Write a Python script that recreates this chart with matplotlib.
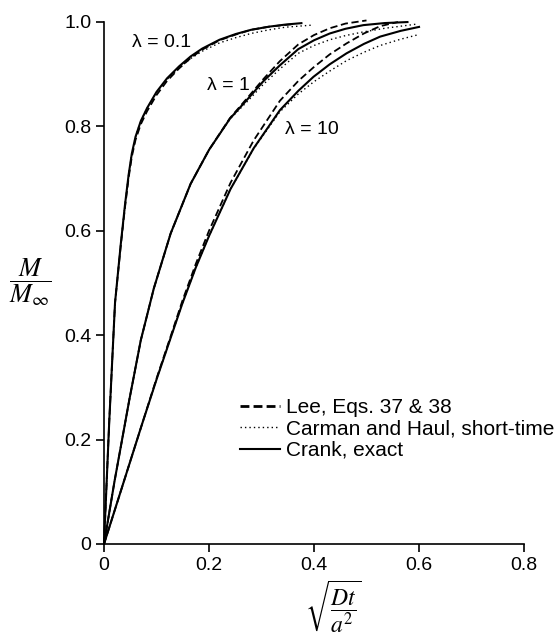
import matplotlib
matplotlib.use("Agg")
import matplotlib.pyplot as plt
from matplotlib.lines import Line2D

plt.rcParams['font.family'] = ['Liberation Sans', 'DejaVu Sans']
plt.rcParams['mathtext.fontset'] = 'stix'

# ==== Data (x = sqrt(Dt/a^2), y = M/M_inf) ====
# lambda = 0.1
crank_01_x = [0, 0.010, 0.021, 0.032, 0.040, 0.047, 0.053, 0.060, 0.070, 0.082, 0.100,
              0.120, 0.143, 0.165, 0.187, 0.220, 0.251, 0.280, 0.314, 0.345, 0.378]
crank_01_y = [0, 0.235, 0.462, 0.575, 0.650, 0.708, 0.748, 0.780, 0.810, 0.835, 0.866,
              0.892, 0.915, 0.934, 0.949, 0.966, 0.977, 0.985, 0.991, 0.995, 0.998]
lee_01_x = [0, 0.010, 0.021, 0.032, 0.040, 0.047, 0.053, 0.060, 0.070, 0.082, 0.100,
            0.120, 0.143, 0.165, 0.187, 0.220, 0.251, 0.280, 0.314, 0.360]
lee_01_y = [0, 0.235, 0.462, 0.572, 0.645, 0.702, 0.742, 0.774, 0.804, 0.829, 0.860,
            0.887, 0.911, 0.931, 0.947, 0.965, 0.976, 0.985, 0.991, 0.996]
carman_01_x = [0, 0.010, 0.021, 0.032, 0.040, 0.047, 0.053, 0.060, 0.070, 0.082, 0.100,
               0.120, 0.143, 0.165, 0.187, 0.220, 0.251, 0.280, 0.314, 0.345, 0.396]
carman_01_y = [0, 0.235, 0.462, 0.575, 0.650, 0.708, 0.748, 0.780, 0.810, 0.835, 0.865,
               0.890, 0.912, 0.930, 0.944, 0.960, 0.970, 0.978, 0.985, 0.990, 0.994]

# lambda = 1
crank_1_x = [0, 0.020, 0.048, 0.070, 0.095, 0.127, 0.165, 0.200, 0.240, 0.276, 0.303,
             0.335, 0.370, 0.400, 0.430, 0.460, 0.494, 0.535, 0.580]
crank_1_y = [0, 0.120, 0.275, 0.390, 0.490, 0.595, 0.690, 0.755, 0.815, 0.855, 0.886,
             0.917, 0.948, 0.965, 0.978, 0.987, 0.994, 0.998, 1.000]
lee_1_x = [0, 0.020, 0.048, 0.070, 0.095, 0.127, 0.165, 0.200, 0.240, 0.276, 0.303,
           0.335, 0.370, 0.400, 0.430, 0.460, 0.500]
lee_1_y = [0, 0.120, 0.275, 0.390, 0.490, 0.595, 0.690, 0.755, 0.816, 0.858, 0.890,
           0.925, 0.957, 0.975, 0.988, 0.997, 1.003]
carman_1_x = [0, 0.020, 0.048, 0.070, 0.095, 0.127, 0.165, 0.200, 0.240, 0.276, 0.303,
              0.335, 0.370, 0.400, 0.430, 0.460, 0.494, 0.535, 0.596]
carman_1_y = [0, 0.120, 0.275, 0.390, 0.490, 0.595, 0.690, 0.755, 0.814, 0.851, 0.880,
              0.910, 0.940, 0.955, 0.966, 0.974, 0.981, 0.988, 0.996]

# lambda = 10
crank_10_x = [0, 0.030, 0.071, 0.100, 0.127, 0.149, 0.175, 0.200, 0.241, 0.285, 0.335,
              0.370, 0.399, 0.430, 0.462, 0.495, 0.526, 0.565, 0.602]
crank_10_y = [0, 0.095, 0.225, 0.315, 0.395, 0.460, 0.530, 0.590, 0.680, 0.758, 0.831,
              0.868, 0.895, 0.919, 0.940, 0.958, 0.972, 0.983, 0.991]
lee_10_x = [0, 0.030, 0.071, 0.100, 0.127, 0.149, 0.175, 0.200, 0.241, 0.285, 0.335,
            0.370, 0.399, 0.430, 0.462, 0.495, 0.526, 0.560]
lee_10_y = [0, 0.095, 0.225, 0.317, 0.398, 0.465, 0.537, 0.600, 0.692, 0.773, 0.849,
            0.887, 0.913, 0.938, 0.959, 0.978, 0.992, 1.000]
carman_10_x = [0, 0.030, 0.071, 0.100, 0.127, 0.149, 0.175, 0.200, 0.241, 0.285, 0.335,
               0.370, 0.399, 0.430, 0.462, 0.495, 0.526, 0.565, 0.596]
carman_10_y = [0, 0.095, 0.225, 0.315, 0.395, 0.460, 0.530, 0.590, 0.680, 0.757, 0.828,
               0.862, 0.885, 0.906, 0.926, 0.942, 0.955, 0.967, 0.975]

x_ticks = [0, 0.2, 0.4, 0.6, 0.8]
x_tick_labels = ["0", "0.2", "0.4", "0.6", "0.8"]
y_ticks = [0, 0.2, 0.4, 0.6, 0.8, 1.0]
y_tick_labels = ["0", "0.2", "0.4", "0.6", "0.8", "1.0"]

lambda_labels = [r"λ = 0.1", r"λ = 1", r"λ = 10"]
lambda_label_pos = [(0.054, 0.960), (0.197, 0.879), (0.345, 0.795)]

legend_labels = ["Lee, Eqs. 37 & 38", "Carman and Haul, short-time", "Crank, exact"]

# ==== Figure ====
fig = plt.figure(figsize=(5.55, 6.41), dpi=100)
ax = fig.add_axes([104 / 555, 1 - 544 / 641, 420 / 555, 522 / 641])

solid = dict(color="black", lw=1.5, solid_capstyle="butt", clip_on=False)
dashed = dict(color="black", lw=1.3, dashes=(4, 2), clip_on=False)
dotted = dict(color="black", lw=1.0, dashes=(1, 2.2), clip_on=False)

for cx, cy, lx, ly, mx, my in [
    (crank_01_x, crank_01_y, lee_01_x, lee_01_y, carman_01_x, carman_01_y),
    (crank_1_x, crank_1_y, lee_1_x, lee_1_y, carman_1_x, carman_1_y),
    (crank_10_x, crank_10_y, lee_10_x, lee_10_y, carman_10_x, carman_10_y),
]:
    ax.plot(mx, my, **dotted)
    ax.plot(lx, ly, **dashed)
    ax.plot(cx, cy, **solid)

for label, (tx, ty) in zip(lambda_labels, lambda_label_pos):
    ax.text(tx, ty, label, fontsize=14, va="center", ha="left")

# ---- axes styling
ax.set_xlim(0, 0.8)
ax.set_ylim(0, 1.0)
ax.spines["top"].set_visible(False)
ax.spines["right"].set_visible(False)
ax.spines["left"].set_linewidth(1.2)
ax.spines["bottom"].set_linewidth(1.2)
ax.set_xticks(x_ticks)
ax.set_xticklabels(x_tick_labels)
ax.set_yticks(y_ticks)
ax.set_yticklabels(y_tick_labels)
ax.tick_params(direction="out", length=6, width=1.2, labelsize=14, pad=3)

# ---- legend
handles = [Line2D([], [], color="black", lw=2.0, dashes=(3.2, 1.5)),
           Line2D([], [], color="black", lw=1.0, dashes=(1, 2.2)),
           Line2D([], [], color="black", lw=1.5)]
ax.legend(handles, legend_labels, loc="upper left", bbox_to_anchor=(0.324, 0.28),
          frameon=False, fontsize=15, handlelength=1.9, handletextpad=0.3,
          labelspacing=0.12, borderpad=0, borderaxespad=0)

# ---- axis labels as in the original (fractions)
fig.text(30 / 555, 1 - 282 / 641, r"$\dfrac{M}{M_\infty}$", fontsize=19,
         ha="center", va="center")
fig.text(333 / 555, 1 - 636 / 641, r"$\sqrt{\dfrac{Dt}{a^2}}$", fontsize=17,
         ha="center", va="bottom")

fig.savefig("out.png", dpi=100)
